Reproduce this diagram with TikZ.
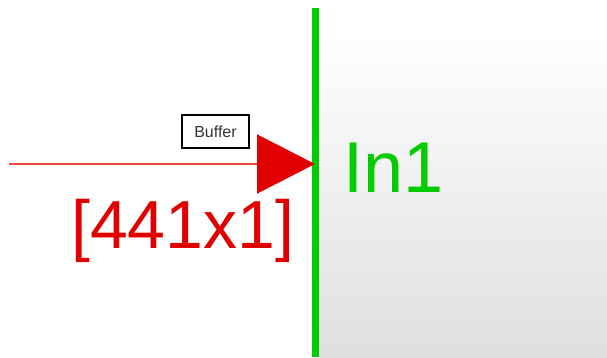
\documentclass[tikz,border=0pt]{standalone}
\usepackage{fontspec}
\setmainfont{Liberation Sans}
\usetikzlibrary{arrows.meta,positioning}
\definecolor{sigred}{HTML}{E00000}
\definecolor{linered}{HTML}{EE4444}
\definecolor{portgreen}{HTML}{00CC00}
\definecolor{blkgray}{HTML}{DFDFDF}

\begin{document}
\begin{tikzpicture}[
  x=1pt, y=-1pt,
  lbl/.style={inner sep=0pt, anchor=base west},
  tag/.style={draw, line width=1.5pt, minimum width=67pt, minimum height=33pt, font=\fontsize{16}{16}\selectfont, text=black!80},
  >=Stealth
]
  \useasboundingbox (0,0) rectangle (607,357);
  % block body
  \shade[top color=white, bottom color=blkgray] (319,30) rectangle (607,357);
  \coordinate (ptop) at (315,8);
  \coordinate (pbot) at (315,357);
  \coordinate (in1)  at (315,164);
  \coordinate (src)  at (9,164);
  \draw[portgreen, line width=7pt] (ptop) -- (pbot);

  % signal line into the port
  \draw[linered, line width=1.5pt, -{Triangle[length=58pt, width=59pt, color=sigred]}] (src) -- (in1);

  \node[tag] (buf) at (215.5,131.5) {Buffer};
  \node[lbl, text=sigred, font=\fontsize{68}{68}\selectfont] (dims) at (71,248) {[441x1]};
  \node[lbl, text=portgreen, font=\fontsize{72}{72}\selectfont] (name) at (343,192) {In1};
\end{tikzpicture}
\end{document}
